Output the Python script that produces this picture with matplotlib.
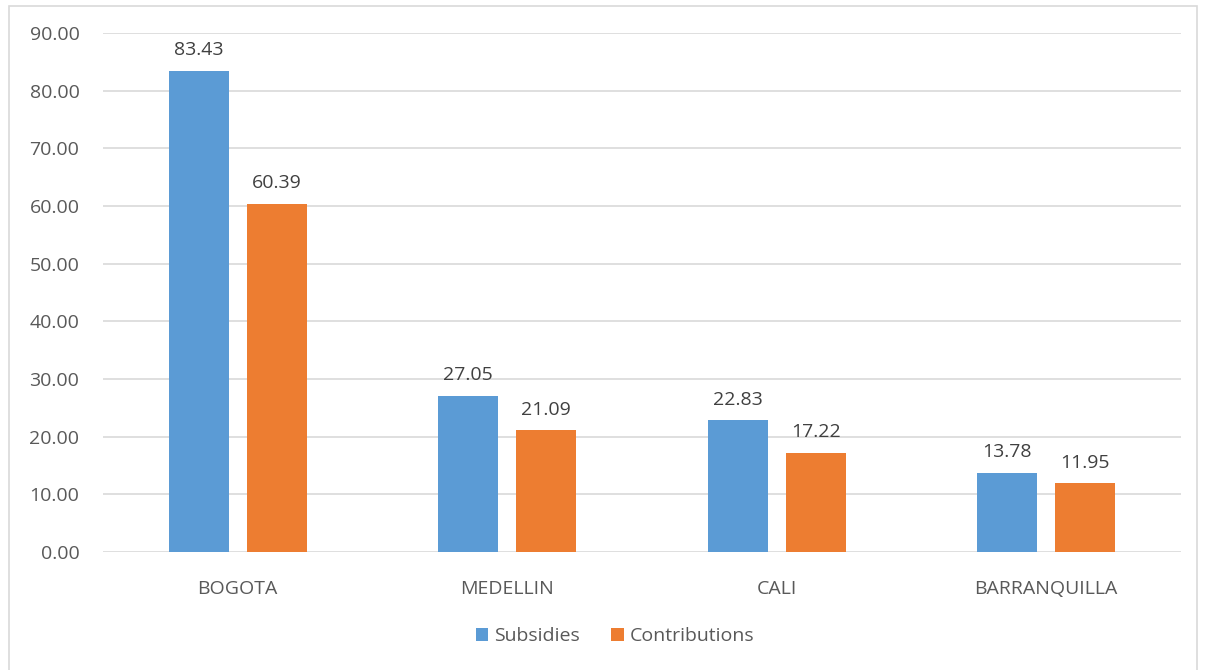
import matplotlib.pyplot as plt
import numpy as np
from matplotlib.patches import Rectangle

cities = ['BOGOTA', 'MEDELLIN', 'CALI', 'BARRANQUILLA']
subsidies = [83.43, 27.05, 22.83, 13.78]
contributions = [60.39, 21.09, 17.22, 11.95]

plt.rcParams['font.family'] = ['Open Sans', 'DejaVu Sans']
txt = '#595959'
fs = 14

fig = plt.figure(figsize=(12.07, 6.70), dpi=100)
ax = fig.add_axes([103/1207, 1-552/670, (1181-103)/1207, (552-33)/670])

# outer chart border
fig.patches.append(Rectangle((9/1207, -0.01), (1197-9)/1207, 1-6/670+0.01,
                             transform=fig.transFigure, fill=False,
                             edgecolor='#d9d9d9', lw=1.2))

x = np.arange(len(cities))
w = 0.223
off = 0.145
b1 = ax.bar(x-off, subsidies, w, color='#5b9bd5', label='Subsidies', zorder=3)
b2 = ax.bar(x+off, contributions, w, color='#ed7d31', label='Contributions', zorder=3)

for bars, vals in [(b1, subsidies), (b2, contributions)]:
    for r, v in zip(bars, vals):
        ax.text(r.get_x()+r.get_width()/2, v+2.0, '%.2f' % v, ha='center', va='bottom',
                fontsize=fs, color='#404040')

ax.set_xlim(-0.5, 3.5)
ax.set_ylim(0, 90)
ax.set_yticks(np.arange(0, 91, 10))
ax.set_yticklabels(['%.2f' % t for t in np.arange(0, 91, 10)])
ax.set_xticks(x)
ax.set_xticklabels(cities)
ax.tick_params(length=0, labelsize=fs, labelcolor=txt)
ax.tick_params(axis='y', pad=17)
ax.tick_params(axis='x', pad=20)
ax.grid(axis='y', color='#d9d9d9', lw=1.2, zorder=0)
for s in ax.spines.values():
    s.set_visible(False)

fig.legend(loc='center', bbox_to_anchor=(615/1207, 1-636/670), ncol=2, frameon=False,
           fontsize=fs, labelcolor=txt, handlelength=0.65, handleheight=0.65,
           handletextpad=0.3, columnspacing=1.6)

plt.savefig('out.png', dpi=100)
